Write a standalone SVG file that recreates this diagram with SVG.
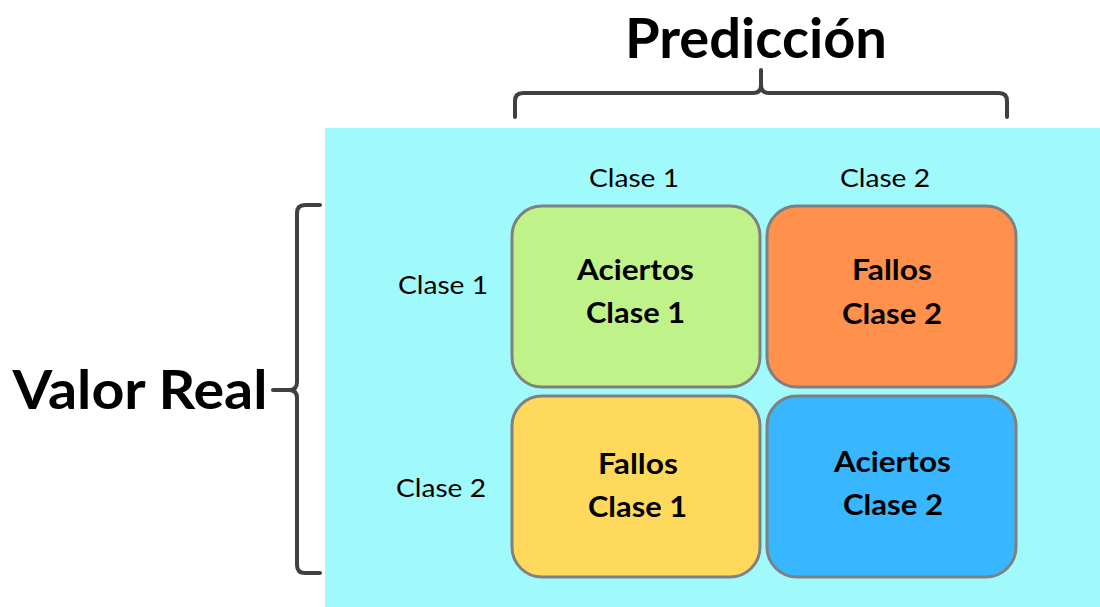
<svg xmlns="http://www.w3.org/2000/svg" width="1100" height="607" viewBox="0 0 1100 607">
  <style>
    .title { font-family: Lato, "Liberation Sans", sans-serif; font-weight: bold; fill: #000; text-anchor: middle; }
    .axis { font-family: Lato, "Liberation Sans", sans-serif; font-size: 25px; fill: #000; text-anchor: middle; }
    .cell text { font-family: Lato, "Liberation Sans", sans-serif; font-weight: bold; font-size: 28px; fill: #000; text-anchor: middle; }
    .cell rect { stroke: #808080; stroke-width: 3; }
    .brace { fill: none; stroke: #404040; stroke-width: 4; stroke-linejoin: round; stroke-linecap: round; }
  </style>
  <rect width="1100" height="607" fill="#ffffff"/>
  <rect x="325" y="128" width="775" height="479" fill="#A0FAFC"/>

  <!-- headings -->
  <text class="title" x="756" y="58" font-size="55" textLength="262" lengthAdjust="spacingAndGlyphs">Predicción</text>
  <text class="title" x="140" y="409" font-size="54" textLength="255" lengthAdjust="spacingAndGlyphs">Valor Real</text>

  <!-- braces -->
  <g id="braces">
    <path class="brace" d="M515,117 V101 Q515,93 523,93 H753 Q761,93 761,85 V70 M761,85 Q761,93 769,93 H999 Q1007,93 1007,101 V117"/>
    <path class="brace" d="M320,205 H305 Q297,205 297,213 V382 Q297,390 289,390 H273 M289,390 Q297,390 297,398 V565 Q297,573 305,573 H320"/>
  </g>

  <!-- axis labels -->
  <text class="axis" x="634" y="187" textLength="90" lengthAdjust="spacingAndGlyphs">Clase 1</text>
  <text class="axis" x="885" y="187" textLength="90" lengthAdjust="spacingAndGlyphs">Clase 2</text>
  <text class="axis" x="443" y="294" textLength="90" lengthAdjust="spacingAndGlyphs">Clase 1</text>
  <text class="axis" x="441" y="497" textLength="90" lengthAdjust="spacingAndGlyphs">Clase 2</text>

  <g id="tp1" class="cell">
    <rect x="512" y="206" width="248" height="181" rx="30" fill="#C0F28A"/>
    <text x="635.5" y="280" textLength="117" lengthAdjust="spacingAndGlyphs">Aciertos</text>
    <text x="635.5" y="323" textLength="99" lengthAdjust="spacingAndGlyphs">Clase 1</text>
  </g>
  <g id="fn2" class="cell">
    <rect x="767" y="206" width="249" height="181" rx="30" fill="#FF914D"/>
    <text x="892" y="280" textLength="80" lengthAdjust="spacingAndGlyphs">Fallos</text>
    <text x="892" y="324" textLength="100" lengthAdjust="spacingAndGlyphs">Clase 2</text>
  </g>
  <g id="fn1" class="cell">
    <rect x="512" y="396" width="248" height="181" rx="30" fill="#FFD95C"/>
    <text x="638" y="474" textLength="80" lengthAdjust="spacingAndGlyphs">Fallos</text>
    <text x="637.5" y="517" textLength="99" lengthAdjust="spacingAndGlyphs">Clase 1</text>
  </g>
  <g id="tp2" class="cell">
    <rect x="767" y="396" width="249" height="181" rx="30" fill="#38B6FF"/>
    <text x="892.5" y="472" textLength="117" lengthAdjust="spacingAndGlyphs">Aciertos</text>
    <text x="893" y="515" textLength="100" lengthAdjust="spacingAndGlyphs">Clase 2</text>
  </g>
</svg>
